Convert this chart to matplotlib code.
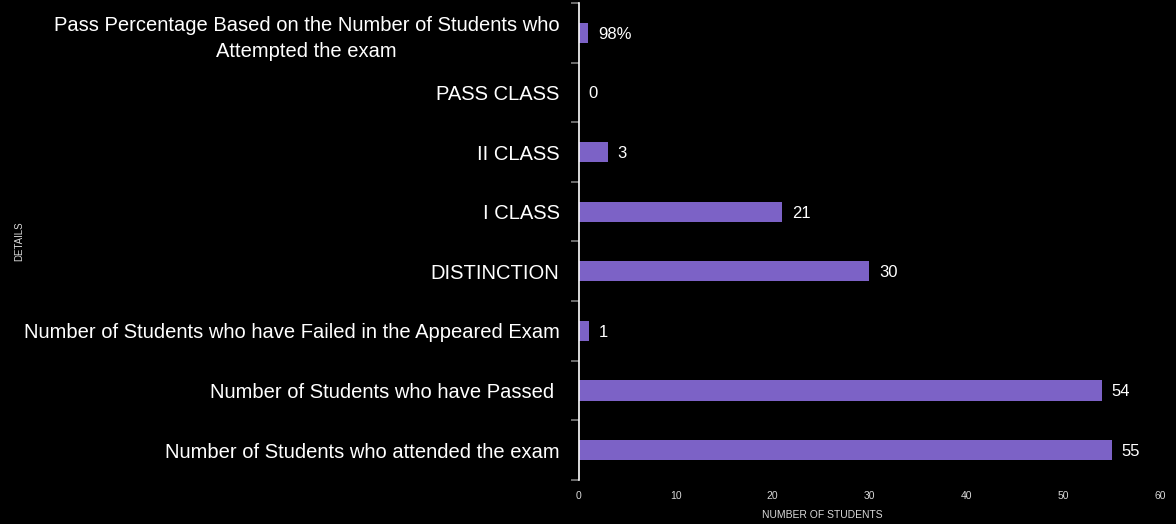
import matplotlib
matplotlib.use('Agg')
import matplotlib.pyplot as plt
import numpy as np

plt.rcParams['font.family'] = ['Liberation Sans', 'DejaVu Sans']

# ── data (bottom to top) ──────────────────────────────────────
categories = [
    'Number of Students who attended the exam',
    'Number of Students who have Passed ',
    'Number of Students who have Failed in the Appeared Exam',
    'DISTINCTION',
    'I CLASS',
    'II CLASS',
    'PASS CLASS',
    'Pass Percentage Based on the Number of Students who\nAttempted the exam',
]
values = [55, 54, 1, 30, 21, 3, 0, 0.98]
value_labels = ['55', '54', '1', '30', '21', '3', '0', '98%']
xticks = [0, 10, 20, 30, 40, 50, 60]

bar_color = '#7C62C6'
bg = '#000000'

fig = plt.figure(figsize=(11.76, 5.24), dpi=100, facecolor=bg)
ax = fig.add_axes([0.4923, 0.084, 0.4941, 0.9103])
ax.set_facecolor(bg)

y = np.arange(len(categories))
ax.barh(y, values, height=0.34, color=bar_color)
for yi, v, lab in zip(y, values, value_labels):
    ax.annotate(lab, (v, yi), textcoords='offset points', xytext=(7, -1),
                va='center', ha='left', fontsize=12, color='white')

ax.set_xlim(0, 60)
ax.set_ylim(-0.5, len(categories) - 0.5)
ax.set_xticks(xticks)
ax.set_xticklabels([str(t) for t in xticks], fontsize=7.5, color='#d9d9d9')
ax.set_yticks(y)
ax.set_yticklabels(categories, fontsize=14.5, color='white',
                   multialignment='center', linespacing=1.45)
ax.tick_params(axis='y', which='major', length=0, pad=14)
ax.tick_params(axis='x', length=0, pad=8)
ax.set_yticks(np.arange(-0.5, len(categories), 1.0), minor=True)
ax.tick_params(axis='y', which='minor', length=6, color='#7f7f7f', width=1.2)

for s in ['top', 'right', 'bottom']:
    ax.spines[s].set_visible(False)
ax.spines['left'].set_color('white')
ax.spines['left'].set_linewidth(1.2)

fig.text(822 / 1176, 1 - 515 / 524, 'NUMBER OF STUDENTS', fontsize=7.5,
         color='#d9d9d9', ha='center', va='center')
fig.text(0.016, 0.54, 'DETAILS', rotation=90, fontsize=7, color='#d9d9d9',
         ha='center', va='center')

plt.savefig('out.png', dpi=100, facecolor=bg)
